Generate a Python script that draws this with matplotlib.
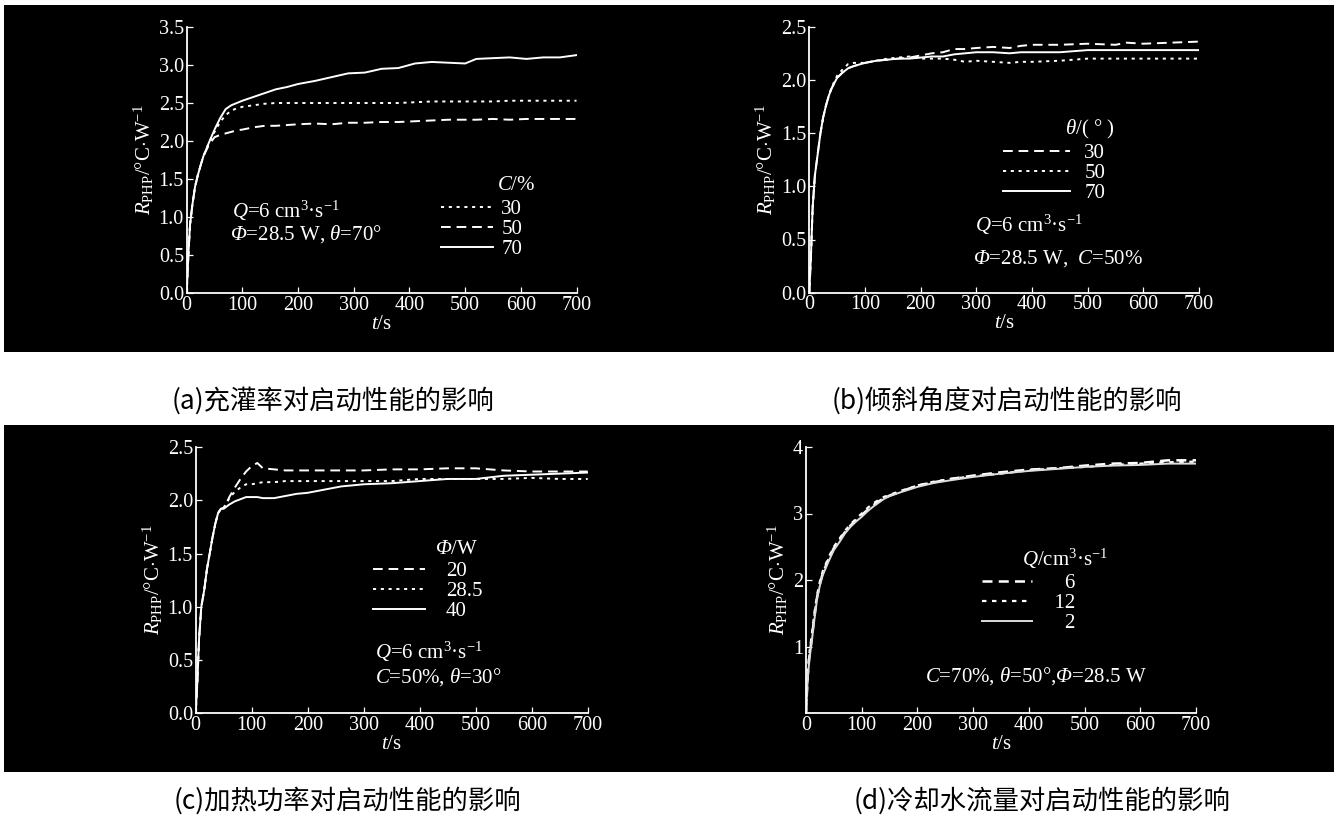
import numpy as np
import matplotlib
matplotlib.use('Agg')
from matplotlib import pyplot as plt
from matplotlib.patches import Rectangle
from matplotlib.ticker import FormatStrFormatter

plt.rcParams['font.family'] = ['Liberation Serif', 'Noto Sans CJK SC', 'DejaVu Sans']
plt.rcParams['mathtext.fontset'] = 'custom'
plt.rcParams['mathtext.rm'] = 'Liberation Serif'
plt.rcParams['mathtext.it'] = 'Liberation Serif:italic'
plt.rcParams['mathtext.bf'] = 'Liberation Serif:bold'
# italic capital Greek (mathtext forces it upright in \mathit)
plt.rcParams['mathtext.sf'] = 'Liberation Serif:italic'

# (a) filling ratio C/%
t_a = [0, 3, 6, 10, 15, 20, 25, 30, 40, 50, 60, 70, 80, 90, 100, 120, 140, 160, 180, 200,
       230, 260, 290, 320, 350, 380, 410, 440, 470, 500, 520, 550, 580, 610, 640, 670, 700]
a_c30 = [0, 0.5, 0.9, 1.15, 1.4, 1.55, 1.68, 1.8, 1.98, 2.12, 2.25, 2.34, 2.4, 2.43, 2.45, 2.47, 2.49, 2.5, 2.5, 2.5,
         2.5, 2.5, 2.5, 2.5, 2.5, 2.5, 2.51, 2.52, 2.52, 2.52, 2.52, 2.52, 2.53, 2.53, 2.53, 2.53, 2.53]
a_c50 = [0, 0.5, 0.9, 1.15, 1.4, 1.55, 1.68, 1.8, 1.95, 2.05, 2.08, 2.1, 2.12, 2.14, 2.15, 2.18, 2.2, 2.2, 2.21, 2.22,
         2.23, 2.22, 2.24, 2.24, 2.25, 2.25, 2.26, 2.27, 2.28, 2.28, 2.28, 2.29, 2.28, 2.29, 2.29, 2.29, 2.29]
a_c70 = [0, 0.5, 0.9, 1.15, 1.4, 1.55, 1.68, 1.8, 1.98, 2.15, 2.3, 2.42, 2.47, 2.5, 2.53, 2.58, 2.63, 2.68, 2.71, 2.75,
         2.79, 2.84, 2.89, 2.9, 2.95, 2.96, 3.02, 3.04, 3.03, 3.02, 3.08, 3.09, 3.1, 3.08, 3.1, 3.1, 3.13]

# (b) inclination angle
t_b = [0, 3, 6, 10, 15, 20, 25, 30, 35, 40, 50, 60, 70, 80, 100, 120, 140, 160, 180, 200,
       220, 240, 260, 280, 300, 330, 360, 380, 400, 450, 500, 550, 570, 600, 650, 700]
b_30 = [0, 0.35, 0.8, 1.1, 1.3, 1.5, 1.65, 1.76, 1.85, 1.92, 2.02, 2.07, 2.11, 2.13, 2.16, 2.18, 2.19, 2.2, 2.21, 2.23,
        2.25, 2.26, 2.29, 2.29, 2.3, 2.31, 2.3, 2.32, 2.33, 2.33, 2.34, 2.33, 2.35, 2.34, 2.35, 2.36]
b_50 = [0, 0.35, 0.8, 1.1, 1.3, 1.5, 1.65, 1.76, 1.85, 1.93, 2.04, 2.1, 2.15, 2.16, 2.16, 2.18, 2.2, 2.21, 2.22, 2.2,
        2.2, 2.2, 2.19, 2.17, 2.18, 2.17, 2.16, 2.17, 2.17, 2.18, 2.2, 2.2, 2.2, 2.2, 2.2, 2.2]
b_70 = [0, 0.35, 0.8, 1.1, 1.3, 1.5, 1.65, 1.76, 1.85, 1.92, 2.02, 2.07, 2.11, 2.13, 2.16, 2.18, 2.19, 2.2, 2.2, 2.21,
        2.22, 2.22, 2.24, 2.25, 2.26, 2.26, 2.25, 2.26, 2.26, 2.26, 2.28, 2.28, 2.28, 2.28, 2.28, 2.28]

# (c) heating power
t_c = [0, 3, 6, 10, 15, 20, 25, 30, 35, 40, 45, 50, 55, 60, 70, 80, 90, 100, 110, 120,
       140, 160, 180, 200, 230, 260, 300, 350, 400, 450, 500, 550, 600, 650, 700]
c_20 = [0, 0.3, 0.7, 1.0, 1.15, 1.35, 1.5, 1.65, 1.78, 1.88, 1.92, 1.93, 1.97, 2.03, 2.12, 2.2, 2.27, 2.32, 2.35, 2.3,
        2.29, 2.28, 2.28, 2.28, 2.28, 2.28, 2.28, 2.29, 2.29, 2.3, 2.3, 2.28, 2.27, 2.27, 2.27]
c_285 = [0, 0.3, 0.7, 1.0, 1.15, 1.35, 1.5, 1.65, 1.78, 1.88, 1.92, 1.93, 1.97, 2.02, 2.08, 2.12, 2.15, 2.15, 2.16, 2.17,
         2.17, 2.18, 2.18, 2.18, 2.18, 2.18, 2.18, 2.18, 2.2, 2.2, 2.2, 2.2, 2.21, 2.2, 2.2]
c_40 = [0, 0.3, 0.7, 1.0, 1.15, 1.35, 1.5, 1.65, 1.78, 1.88, 1.92, 1.92, 1.94, 1.96, 1.99, 2.01, 2.03, 2.03, 2.03, 2.02,
        2.02, 2.04, 2.06, 2.07, 2.1, 2.13, 2.15, 2.16, 2.18, 2.2, 2.2, 2.23, 2.24, 2.25, 2.26]

# (d) cooling water flow
t_d = [0, 3, 6, 10, 15, 20, 25, 30, 40, 50, 60, 70, 80, 90, 100, 110, 120, 130, 140, 150,
       170, 200, 230, 260, 300, 350, 400, 450, 500, 550, 600, 650, 700]
d_6 = [0, 0.55, 0.85, 1.1, 1.45, 1.75, 1.95, 2.1, 2.3, 2.48, 2.6, 2.72, 2.82, 2.9, 2.98, 3.05, 3.12, 3.18, 3.23, 3.27,
       3.33, 3.42, 3.47, 3.52, 3.57, 3.62, 3.66, 3.68, 3.72, 3.75, 3.76, 3.8, 3.8]
d_12 = [0, 0.6, 0.9, 1.15, 1.5, 1.78, 1.98, 2.13, 2.33, 2.5, 2.62, 2.74, 2.84, 2.92, 3.0, 3.08, 3.15, 3.2, 3.25, 3.28,
        3.34, 3.42, 3.48, 3.52, 3.56, 3.6, 3.65, 3.68, 3.7, 3.73, 3.75, 3.77, 3.78]
d_2 = [0, 0.5, 0.8, 1.05, 1.4, 1.72, 1.92, 2.07, 2.27, 2.45, 2.57, 2.7, 2.8, 2.88, 2.95, 3.03, 3.1, 3.16, 3.22, 3.26,
       3.32, 3.4, 3.46, 3.5, 3.55, 3.6, 3.64, 3.67, 3.7, 3.72, 3.73, 3.75, 3.75]

captions = ['(a)充灌率对启动性能的影响', '(b)倾斜角度对启动性能的影响',
            '(c)加热功率对启动性能的影响', '(d)冷却水流量对启动性能的影响']

DASH = (0, (5, 3))
DOT = (0, (1.6, 2.4))
W = 1338
H = 832
FS = 15
PHI = r'$\mathsf{\Phi}$'

fig = plt.figure(figsize=(13.38, 8.32), dpi=100)
fig.patch.set_facecolor('white')
# black panel bands
fig.add_artist(Rectangle((4 / W, 1 - 352 / H), 1330 / W, 347 / H, transform=fig.transFigure,
                         facecolor='black', edgecolor='none', zorder=0))
fig.add_artist(Rectangle((4 / W, 1 - 772 / H), 1330 / W, 347 / H, transform=fig.transFigure,
                         facecolor='black', edgecolor='none', zorder=0))


def make_ax(x0, x1, ytop, ybot):
    ax = fig.add_axes([x0 / W, 1 - ybot / H, (x1 - x0) / W, (ybot - ytop) / H])
    ax.patch.set_alpha(0)
    for s in ['top', 'right']:
        ax.spines[s].set_visible(False)
    for s in ['left', 'bottom']:
        ax.spines[s].set_color('white')
        ax.spines[s].set_linewidth(1.3)
    ax.tick_params(direction='in', colors='white', labelsize=14.5, length=4, width=0.9, pad=2)
    ax.set_xlim(0, 700)
    ax.set_xticks(range(0, 701, 100))
    ax.set_xlabel('$t$/s', color='white', fontsize=FS, labelpad=0)
    ax.set_ylabel(r'$R_{\mathrm{PHP}}$/°C$\cdot$W$^{-1}$', color='white', fontsize=FS, labelpad=2)
    return ax


def legend(ax, handles, labels, x, ytop, hl=2.5, pad=0.5):
    return ax.legend(handles, labels, loc='upper left', bbox_to_anchor=(x, ytop), frameon=False,
                     fontsize=FS, labelcolor='white', handlelength=hl, handletextpad=pad,
                     labelspacing=0.02, borderpad=0, borderaxespad=0)


def note(ax, x, y, s, ha='left'):
    ax.text(x, y, s, color='white', fontsize=FS, transform=ax.transAxes, ha=ha, va='center')


kw = dict(color='white', lw=1.4)

# (a)
ax = make_ax(186.7, 576.5, 27, 293)
ax.set_ylim(0, 3.5)
ax.set_yticks(np.arange(0, 3.51, 0.5))
ax.yaxis.set_major_formatter(FormatStrFormatter('%.1f'))
l1, = ax.plot(t_a, a_c30, ls=DOT, **kw)
l2, = ax.plot(t_a, a_c50, ls=DASH, **kw)
l3, = ax.plot(t_a, a_c70, ls='-', **kw)
legend(ax, [l1, l2, l3], ['30', '50', '70'], 0.652, 0.35, hl=2.5, pad=0.4)
note(ax, 0.845, 0.405, '$C$/%', ha='center')
note(ax, 0.115, 0.31, '$Q$=6 cm$^3$·s$^{-1}$')
note(ax, 0.11, 0.22, PHI + r'=28.5 W, $\theta$=70°')

# (b)
ax = make_ax(809.3, 1199, 26.7, 292.7)
ax.set_ylim(0, 2.5)
ax.set_yticks(np.arange(0, 2.51, 0.5))
ax.yaxis.set_major_formatter(FormatStrFormatter('%.1f'))
l1, = ax.plot(t_b, b_30, ls=DASH, **kw)
l2, = ax.plot(t_b, b_50, ls=DOT, **kw)
l3, = ax.plot(t_b, b_70, ls='-', **kw)
legend(ax, [l1, l2, l3], ['30', '50', '70'], 0.497, 0.56, hl=3.2, pad=0.7)
note(ax, 0.72, 0.615, r'$\theta$/( ° )', ha='center')
note(ax, 0.425, 0.255, '$Q$=6 cm$^3$·s$^{-1}$')
note(ax, 0.42, 0.13, PHI + r'=28.5 W,  $C$=50%')

# (c)
ax = make_ax(195.7, 587.7, 447, 713.3)
ax.set_ylim(0, 2.5)
ax.set_yticks(np.arange(0, 2.51, 0.5))
ax.yaxis.set_major_formatter(FormatStrFormatter('%.1f'))
l1, = ax.plot(t_c, c_20, ls=DASH, **kw)
l2, = ax.plot(t_c, c_285, ls=DOT, **kw)
l3, = ax.plot(t_c, c_40, ls='-', **kw)
legend(ax, [l1, l2, l3], ['20', '28.5', '40'], 0.452, 0.57, hl=2.5, pad=1.0)
note(ax, 0.667, 0.615, PHI + '/W', ha='center')
note(ax, 0.457, 0.229, '$Q$=6 cm$^3$·s$^{-1}$')
note(ax, 0.457, 0.135, r'$C$=50%, $\theta$=30°')

# (d)
ax = make_ax(806, 1196, 447, 713)
ax.set_ylim(0, 4)
ax.set_yticks([1, 2, 3, 4])
l1, = ax.plot(t_d, d_6, ls=(0, (4, 2.5)), color='white', lw=1.8)
l2, = ax.plot(t_d, d_12, ls=(0, (2, 2.5)), color='white', lw=1.6)
l3, = ax.plot(t_d, d_2, ls='-', color='#dddddd', lw=1.4)
legend(ax, [l1, l2, l3], ['    6', '  12', '    2'], 0.451, 0.525, hl=2.4, pad=0.6)
note(ax, 0.665, 0.58, '$Q$/cm$^3$·s$^{-1}$', ha='center')
note(ax, 0.59, 0.139, r'$C$=70%, $\theta$=50°,' + PHI + '=28.5 W', ha='center')

# captions
cap_pos = [(333, 401), (1007, 401), (347, 801), (1042, 801)]
for (cx, cy), txt in zip(cap_pos, captions):
    fig.text(cx / W, 1 - cy / H, txt, fontsize=19, ha='center', va='center',
             family=['Noto Sans CJK SC', 'DejaVu Sans'], color='black')

fig.savefig('out.png', dpi=100)
